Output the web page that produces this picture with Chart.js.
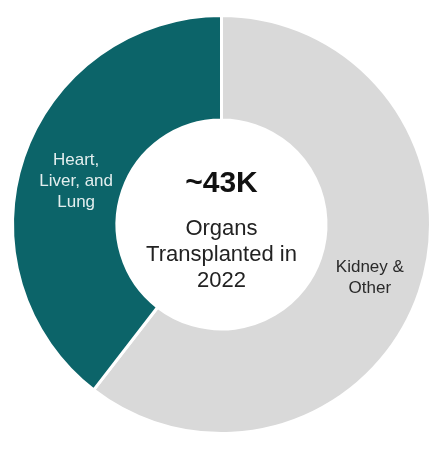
<!DOCTYPE html>
<html>
<head>
<meta charset="utf-8">
<script src="https://cdn.jsdelivr.net/npm/chart.js@4"></script>
<style>
  html, body { margin: 0; padding: 0; background: #fff; }
  #wrap { width: 443px; height: 451px; }
</style>
</head>
<body>
<div id="wrap"><canvas id="donut"></canvas></div>
<script>
// values in thousands
const categories = ["Kidney & Other", "Heart, Liver, and Lung"];
const organValues = [26, 17];
const sliceColors = ["#d9d9d9", "#0c6469"];
const sliceLabels = [["Kidney &", "Other"], ["Heart,", "Liver, and", "Lung"]];
const labelColors = ["#2a2a2a", "#e3eeee"];
const centerTitle = "~43K";
const centerLines = ["Organs", "Transplanted in", "2022"];

const FONT = "'Liberation Sans', Arial, sans-serif";

const sliceText = {
  id: "sliceText",
  afterDatasetsDraw(chart) {
    const ctx = chart.ctx;
    const arcs = chart.getDatasetMeta(0).data;
    ctx.save();
    ctx.textAlign = "center";
    ctx.textBaseline = "middle";
    ctx.font = "17px " + FONT;
    arcs.forEach((arc, i) => {
      const p = arc.tooltipPosition();
      const lines = sliceLabels[i];
      const lh = 21;
      const top = p.y - (lines.length - 1) * lh / 2 + (i === 1 ? 7 : 3);
      ctx.fillStyle = labelColors[i];
      lines.forEach((t, k) => ctx.fillText(t, p.x + (i === 1 ? 3 : 0), top + k * lh));
    });
    ctx.restore();
  }
};

const centerText = {
  id: "centerText",
  afterDraw(chart) {
    const ctx = chart.ctx;
    const arc = chart.getDatasetMeta(0).data[0];
    const cx = arc.x, cy = arc.y;
    ctx.save();
    ctx.textAlign = "center";
    ctx.textBaseline = "middle";
    ctx.fillStyle = "#111";
    ctx.font = "bold 30px " + FONT;
    ctx.fillText(centerTitle, cx, cy - 41);
    ctx.fillStyle = "#222";
    ctx.font = "22px " + FONT;
    centerLines.forEach((t, k) => ctx.fillText(t, cx, cy + 4 + k * 26));
    ctx.restore();
  }
};

new Chart(document.getElementById("donut"), {
  type: "doughnut",
  data: {
    labels: categories,
    datasets: [{
      data: organValues,
      backgroundColor: sliceColors,
      borderColor: "#ffffff",
      borderWidth: 3,
      hoverOffset: 0
    }]
  },
  options: {
    responsive: true,
    maintainAspectRatio: false,
    animation: false,
    cutout: "50%",
    layout: { padding: { left: 11, right: 11, top: 14, bottom: 16 } },
    plugins: {
      legend: { display: false },
      tooltip: { enabled: false }
    }
  },
  plugins: [sliceText, centerText]
});
</script>
</body>
</html>
